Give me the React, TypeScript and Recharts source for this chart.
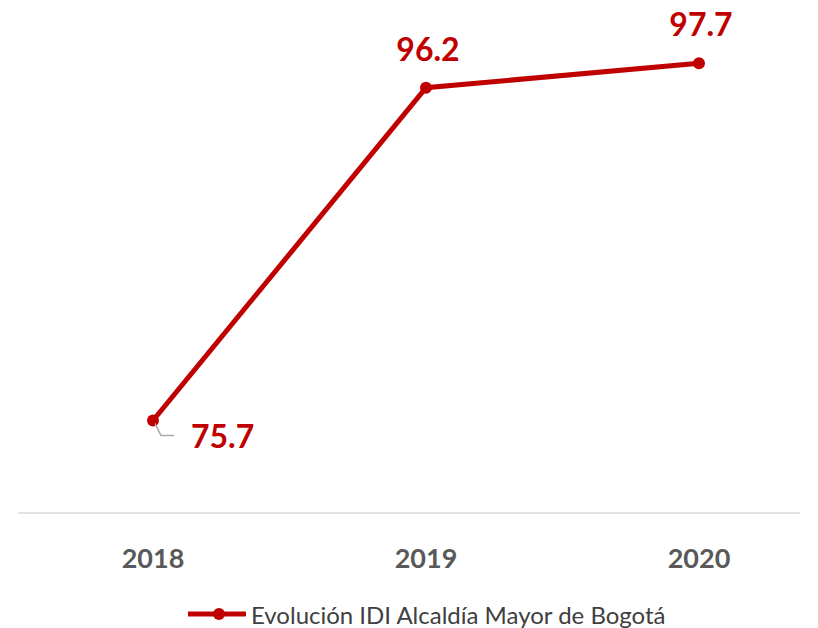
import React from "react";
import { LineChart, Line, XAxis, YAxis, Legend, LabelList } from "recharts";

const years = ["2018", "2019", "2020"];
const idiValues = [75.7, 96.2, 97.7];
const seriesName = "Evolución IDI Alcaldía Mayor de Bogotá";

const data = years.map((y, i) => ({ year: y, idi: idiValues[i] }));

const RED = "#C00000";
const FONT = "Lato, 'Open Sans', sans-serif";

const Tick = (props: any) => {
  const { x, y, payload } = props;
  return (
    <text x={x} y={y} dy={55} textAnchor="middle" fontFamily={FONT} fontWeight={700} fontSize={27} fill="#595959">
      {payload.value}
    </text>
  );
};

const DataLabel = (props: any) => {
  const { x, y, value, index } = props;
  if (index === 0) {
    return (
      <g>
        <polyline points={`${x + 2},${y + 3} ${x + 8},${y + 15} ${x + 21},${y + 15}`} fill="none" stroke="#A6A6A6" strokeWidth={1.5} />
        <text x={x + 38} y={y + 28} textAnchor="start" fontFamily={FONT} fontWeight={700} fontSize={32} fill={RED}>
          {value}
        </text>
      </g>
    );
  }
  return (
    <text x={x + 2} y={y - 27} textAnchor="middle" fontFamily={FONT} fontWeight={700} fontSize={32} fill={RED}>
      {value}
    </text>
  );
};

const LegendContent = () => (
  <div style={{ position: "relative", width: "100%", height: 40 }}>
    <div style={{ position: "absolute", left: 170, top: 11, height: 40, display: "flex", alignItems: "center" }}>
      <svg width={58} height={20} style={{ display: "block" }}>
        <line x1={1} y1={10} x2={57} y2={10} stroke={RED} strokeWidth={5} strokeLinecap="round" />
        <circle cx={31} cy={10} r={6} fill={RED} />
      </svg>
      <span style={{ fontFamily: FONT, fontSize: 24, color: "#404040", marginLeft: 5, whiteSpace: "nowrap" }}>{seriesName}</span>
    </div>
  </div>
);

export default function App() {
  return (
    <div style={{ position: "absolute", left: 0, top: 0, width: 818, height: 628, background: "#fff" }}>
      <LineChart width={818} height={628} data={data} margin={{ top: 26, right: 18, bottom: 5, left: 18 }}>
        <XAxis
          dataKey="year"
          axisLine={{ stroke: "#D9D9D9", strokeWidth: 1.5 }}
          tickLine={false}
          tickSize={0}
          tickMargin={0}
          height={70}
          padding={{ left: 135, right: 101 }}
          tick={<Tick />}
          interval={0}
        />
        <YAxis hide domain={[70, 100]} />
        <Legend verticalAlign="bottom" height={40} content={<LegendContent />} />
        <Line
          type="linear"
          dataKey="idi"
          name={seriesName}
          stroke={RED}
          strokeWidth={5}
          dot={{ r: 6, fill: RED, stroke: RED, strokeWidth: 0 }}
          activeDot={false}
          isAnimationActive={false}
        >
          <LabelList dataKey="idi" content={<DataLabel />} />
        </Line>
      </LineChart>
    </div>
  );
}
